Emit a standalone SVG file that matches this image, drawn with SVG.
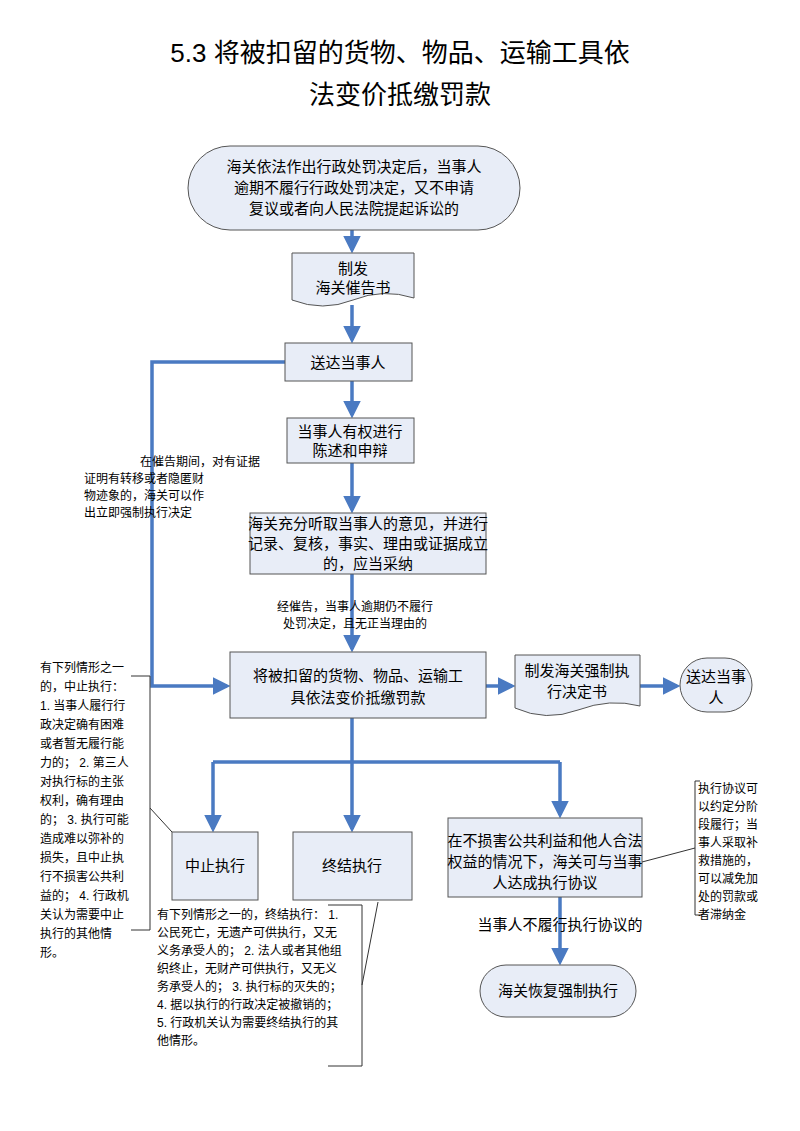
<svg xmlns="http://www.w3.org/2000/svg" width="800" height="1131" viewBox="0 0 800 1131">
<defs>
<style>
text{font-family:"Liberation Sans","Noto Sans CJK SC",sans-serif;fill:#000}
.n{fill:#e8edf7;stroke:#555;stroke-width:1}
.c{stroke:#4a7ac2;stroke-width:3.5;fill:none}
.t{font-size:15px;text-anchor:middle}
.s{font-size:12px}
.b{stroke:#333;stroke-width:1;fill:none}
</style>
<marker id="a" markerWidth="5" markerHeight="5" refX="4" refY="2.5" orient="auto" markerUnits="strokeWidth"><path d="M0,0L5,2.5L0,5z" fill="#4a7ac2"/></marker>
</defs>
<rect width="800" height="1131" fill="#fff"/>
<text x="400" y="62" style="font-size:26px;text-anchor:middle">5.3  将被扣留的货物、物品、运输工具依</text>
<text x="400" y="104" style="font-size:26px;text-anchor:middle">法变价抵缴罚款</text>
<g id="connectors">
<path class="c" d="M352,230V250" marker-end="url(#a)"/>
<path class="c" d="M352,305V340" marker-end="url(#a)"/>
<path class="c" d="M352,381V415" marker-end="url(#a)"/>
<path class="c" d="M352,463V510" marker-end="url(#a)"/>
<path class="c" d="M352,574V649" marker-end="url(#a)"/>
<path class="c" d="M285,362H152V686H227" marker-end="url(#a)"/>
<path class="c" d="M486,686H512" marker-end="url(#a)"/>
<path class="c" d="M640,686H677" marker-end="url(#a)"/>
<path class="c" d="M352,718V762"/>
<path class="c" d="M213,762H560"/>
<path class="c" d="M213,762V829" marker-end="url(#a)"/>
<path class="c" d="M352,762V829" marker-end="url(#a)"/>
<path class="c" d="M560,762V815" marker-end="url(#a)"/>
<path class="c" d="M560,897V962" marker-end="url(#a)"/>
<text x="140" y="466" class="s">在催告期间，对有证据</text>
<text x="84" y="483" class="s">证明有转移或者隐匿财</text>
<text x="84" y="500" class="s">物迹象的，海关可以作</text>
<text x="84" y="517" class="s">出立即强制执行决定</text>
<text x="355" y="611" class="s" text-anchor="middle">经催告，当事人逾期仍不履行</text>
<text x="355" y="628" class="s" text-anchor="middle">处罚决定，且无正当理由的</text>
<text x="560" y="930" class="t">当事人不履行执行协议的</text>
</g>
<g id="start"><rect class="n" x="188" y="146" width="332" height="84" rx="42"/>
<text x="354" y="172" class="t">海关依法作出行政处罚决定后，当事人</text>
<text x="354" y="193" class="t">逾期不履行行政处罚决定，又不申请</text>
<text x="354" y="214" class="t">复议或者向人民法院提起诉讼的</text></g>
<g id="doc1"><path class="n" d="M292,253H414V298Q383,288 353,300T292,300Z"/>
<text x="353" y="274" class="t">制发</text><text x="353" y="293" class="t">海关催告书</text></g>
<g id="deliver"><rect class="n" x="285" y="343" width="127" height="38"/><text x="348" y="368" class="t">送达当事人</text></g>
<g id="defend"><rect class="n" x="287" y="418" width="127" height="45"/><text x="350" y="437" class="t">当事人有权进行</text><text x="350" y="456" class="t">陈述和申辩</text></g>
<g id="review"><rect class="n" x="250" y="513" width="236" height="61"/>
<text x="368" y="529" class="t">海关充分听取当事人的意见，并进行</text>
<text x="368" y="549" class="t">记录、复核，事实、理由或证据成立</text>
<text x="368" y="569" class="t">的，应当采纳</text></g>
<g id="main"><rect class="n" x="230" y="652" width="256" height="66"/>
<text x="358" y="681" class="t">将被扣留的货物、物品、运输工</text>
<text x="358" y="703" class="t">具依法变价抵缴罚款</text></g>
<g id="doc2"><path class="n" d="M515,655H640V706Q610,698 578,710T515,708Z"/>
<text x="577" y="676" class="t">制发海关强制执</text><text x="577" y="697" class="t">行决定书</text></g>
<g id="deliver2"><rect class="n" x="680" y="658" width="72" height="54" rx="27"/>
<text x="716" y="682" class="t">送达当事</text><text x="716" y="703" class="t">人</text></g>
<g id="suspend"><rect class="n" x="172" y="832" width="86" height="68"/><text x="215" y="871" class="t">中止执行</text></g>
<g id="terminate"><rect class="n" x="293" y="832" width="119" height="68"/><text x="352" y="871" class="t">终结执行</text></g>
<g id="agreement"><rect class="n" x="448" y="818" width="194" height="79"/>
<text x="545" y="846" class="t">在不损害公共利益和他人合法</text>
<text x="545" y="867" class="t">权益的情况下，海关可与当事</text>
<text x="545" y="888" class="t">人达成执行协议</text></g>
<g id="resume"><rect class="n" x="480" y="965" width="156" height="52" rx="26"/><text x="558" y="996" class="t">海关恢复强制执行</text></g>
<g id="note1">
<path class="b" d="M131,676H150V930H131M150,808L172,832"/>
<text x="40" y="672" class="s">有下列情形之一</text>
<text x="40" y="691" class="s">的，中止执行：</text>
<text x="40" y="710" class="s">1. 当事人履行行</text>
<text x="40" y="729" class="s">政决定确有困难</text>
<text x="40" y="748" class="s">或者暂无履行能</text>
<text x="40" y="767" class="s">力的；  2. 第三人</text>
<text x="40" y="786" class="s">对执行标的主张</text>
<text x="40" y="805" class="s">权利，确有理由</text>
<text x="40" y="824" class="s">的；  3. 执行可能</text>
<text x="40" y="843" class="s">造成难以弥补的</text>
<text x="40" y="862" class="s">损失，且中止执</text>
<text x="40" y="881" class="s">行不损害公共利</text>
<text x="40" y="900" class="s">益的；  4. 行政机</text>
<text x="40" y="919" class="s">关认为需要中止</text>
<text x="40" y="938" class="s">执行的其他情</text>
<text x="40" y="957" class="s">形。</text></g>
<g id="note2">
<path class="b" d="M328,905H362V1066H328M362,985L378,902"/>
<text x="157" y="919" class="s">有下列情形之一的，终结执行： 1.</text>
<text x="157" y="937" class="s">公民死亡，无遗产可供执行，又无</text>
<text x="157" y="955" class="s">义务承受人的；  2. 法人或者其他组</text>
<text x="157" y="973" class="s">织终止，无财产可供执行，又无义</text>
<text x="157" y="991" class="s">务承受人的；  3. 执行标的灭失的；</text>
<text x="157" y="1009" class="s">4. 据以执行的行政决定被撤销的；</text>
<text x="157" y="1027" class="s">5. 行政机关认为需要终结执行的其</text>
<text x="157" y="1045" class="s">他情形。</text></g>
<g id="note3">
<path class="b" d="M700,781H695V915H700M695,848L642,862"/>
<text x="698" y="793" class="s">执行协议可</text>
<text x="698" y="811" class="s">以约定分阶</text>
<text x="698" y="829" class="s">段履行；当</text>
<text x="698" y="847" class="s">事人采取补</text>
<text x="698" y="865" class="s">救措施的，</text>
<text x="698" y="883" class="s">可以减免加</text>
<text x="698" y="901" class="s">处的罚款或</text>
<text x="698" y="919" class="s">者滞纳金</text></g>
</svg>
